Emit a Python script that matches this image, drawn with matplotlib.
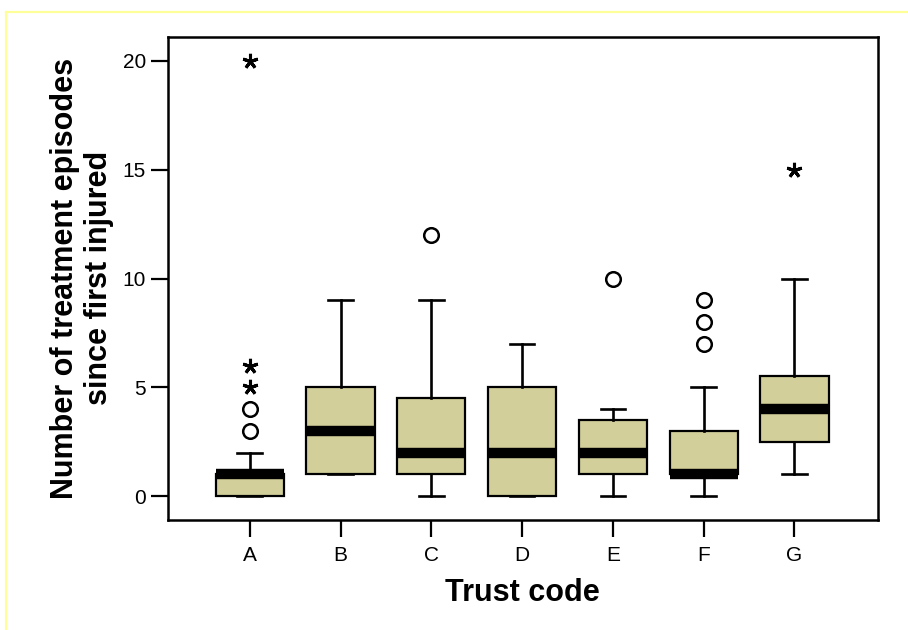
import numpy as np
import matplotlib
matplotlib.use("Agg")
import matplotlib.pyplot as plt
from matplotlib.lines import Line2D

plt.rcParams["font.family"] = ["Liberation Sans", "DejaVu Sans"]

# box summaries
trusts = ["A", "B", "C", "D", "E", "F", "G"]
q1 = [0, 1, 1, 0, 1, 1, 2.5]
med = [1, 3, 2, 2, 2, 1, 4]
q3 = [1, 5, 4.5, 5, 3.5, 3, 5.5]
whislo = [0, 1, 0, 0, 0, 0, 1]
whishi = [2, 9, 9, 7, 4, 5, 10]
# circles (outliers) and stars (extremes)
circles = [[3, 4], [], [12], [], [10], [7, 8, 9], []]
stars = [[5, 6, 20], [], [], [], [], [], [15]]

BOX_COLOR = "#d3cf9a"

fig = plt.figure(figsize=(9.08, 6.30), dpi=100)
ax = fig.add_axes([168/908, 1-520/630, 710/908, 483/630])

stats = []
for i, t in enumerate(trusts):
    stats.append(dict(label=t, q1=q1[i], med=med[i], q3=q3[i],
                      whislo=whislo[i], whishi=whishi[i], fliers=[]))
pos = np.arange(1, len(trusts) + 1)
ax.bxp(stats, positions=pos, widths=0.75, patch_artist=True, showfliers=False,
       capwidths=0.27,
       boxprops=dict(facecolor=BOX_COLOR, edgecolor="black", linewidth=1.6),
       medianprops=dict(color="black", linewidth=7.5, solid_capstyle="butt"),
       whiskerprops=dict(color="black", linewidth=1.9),
       capprops=dict(color="black", linewidth=1.9))

for p, c in zip(pos, circles):
    if c:
        ax.plot([p]*len(c), c, ls="none", marker="o", ms=10.5,
                mfc="white", mec="black", mew=1.8, zorder=5)
for p, s in zip(pos, stars):
    if s:
        ax.plot([p]*len(s), s, ls="none", marker=(5, 2, 0), ms=11,
                mec="black", mew=2.2, zorder=5)

ax.set_xlim(0.1, 7.92)
ax.set_ylim(-1.1, 21.1)
ax.set_yticks([0, 5, 10, 15, 20])
ax.set_xticks(pos)
ax.set_xticklabels(trusts)
for sp in ax.spines.values():
    sp.set_linewidth(1.8)
ax.tick_params(axis="both", direction="out", length=12, width=1.6,
               labelsize=15)
ax.tick_params(axis="y", pad=4)
ax.tick_params(axis="x", pad=6.5)

fig.text(82/908, 1-278/630, "Number of treatment episodes\nsince first injured",
         rotation=90, ha="center", va="center", multialignment="center",
         fontsize=22, fontweight="bold", linespacing=1.2)
fig.text(522/908, 1-593/630, "Trust code", ha="center", va="center",
         fontsize=22, fontweight="bold")

# pale yellow frame (left and top edges only)
yel = "#ffff99"
fig.add_artist(Line2D([6/908, 6/908], [0, 1-12/630], color=yel, lw=1.6,
                      transform=fig.transFigure))
fig.add_artist(Line2D([6/908, 1], [1-12/630, 1-12/630], color=yel, lw=1.6,
                      transform=fig.transFigure))

fig.savefig("out.png", dpi=100)
